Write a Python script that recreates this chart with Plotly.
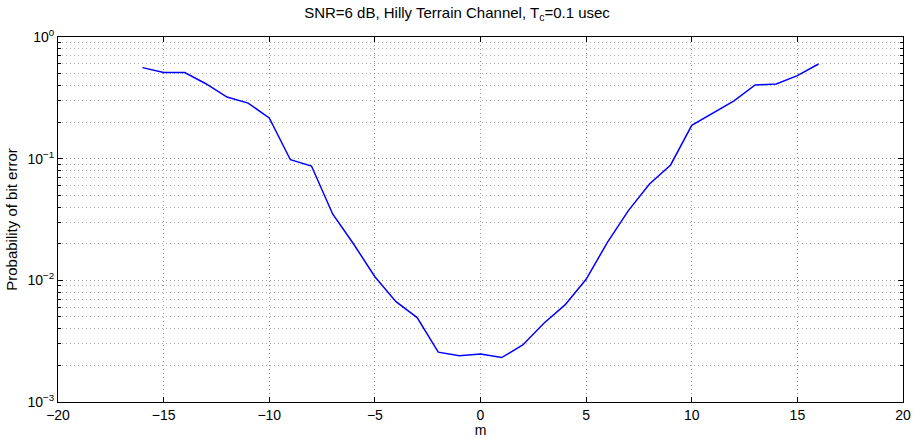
import plotly.graph_objects as go

m_vals = list(range(-16, 17))
pe_vals = [0.56, 0.51, 0.51, 0.413, 0.321, 0.286, 0.216, 0.098, 0.087, 0.0351,
           0.0198, 0.0107, 0.00668, 0.00494, 0.00257, 0.0024, 0.00248, 0.00232,
           0.00294, 0.00444, 0.00628, 0.0102, 0.0204, 0.0374, 0.062, 0.0888,
           0.188, 0.237, 0.298, 0.403, 0.411, 0.481, 0.60]

x_ticks = [-20, -15, -10, -5, 0, 5, 10, 15, 20]
x_ticktext = ["−20", "−15", "−10", "−5", "0", "5", "10", "15", "20"]
y_ticks = [1e-3, 1e-2, 1e-1, 1]
y_ticktext = ["10<sup>−3</sup>", "10<sup>−2</sup>", "10<sup>−1</sup>", "10<sup>0</sup>"]
y_minor = [k * 10**e for e in (-3, -2, -1) for k in range(2, 10)]

title_text = "SNR=6 dB, Hilly Terrain Channel, T<sub>c</sub>=0.1 usec"
x_label = "m"
y_label = "Probability of bit error"

font_family = "Liberation Sans, Arial, Helvetica, sans-serif"
dots = "1px,3px"

fig = go.Figure()
fig.add_trace(go.Scatter(x=m_vals, y=pe_vals, mode="lines",
                         line=dict(color="#0000ff", width=1.5), showlegend=False))

fig.update_layout(
    width=914, height=438,
    margin=dict(l=58, r=11, t=37, b=36),
    paper_bgcolor="white", plot_bgcolor="white",
    font=dict(family=font_family, size=14, color="black"),
    title=dict(text=title_text, x=0.5, xanchor="center", y=1 - 13 / 438, yanchor="middle",
               font=dict(size=15)),
)
fig.update_xaxes(
    range=[-20, 20], tickvals=x_ticks, ticktext=x_ticktext,
    ticks="inside", ticklen=5, tickcolor="black",
    showline=True, linecolor="black", linewidth=1, mirror="ticks",
    showgrid=True, gridcolor="#999999", griddash=dots, gridwidth=1,
    zeroline=False, automargin=False,
    tickfont=dict(size=14),
    title=dict(text=x_label, standoff=0, font=dict(size=14)),
)
fig.update_yaxes(
    type="log", range=[-3, 0], tickvals=y_ticks, ticktext=y_ticktext,
    ticks="inside", ticklen=5, tickcolor="black",
    showline=True, linecolor="black", linewidth=1, mirror="ticks",
    showgrid=True, gridcolor="#999999", griddash=dots, gridwidth=1,
    zeroline=False, automargin=False,
    tickfont=dict(size=14),
    minor=dict(tickvals=y_minor, ticks="inside", ticklen=3, tickcolor="black",
               showgrid=True, gridcolor="#aaaaaa", griddash=dots, gridwidth=1),
    title=dict(text=y_label, standoff=6, font=dict(size=15)),
)

fig.write_html("out.html")
